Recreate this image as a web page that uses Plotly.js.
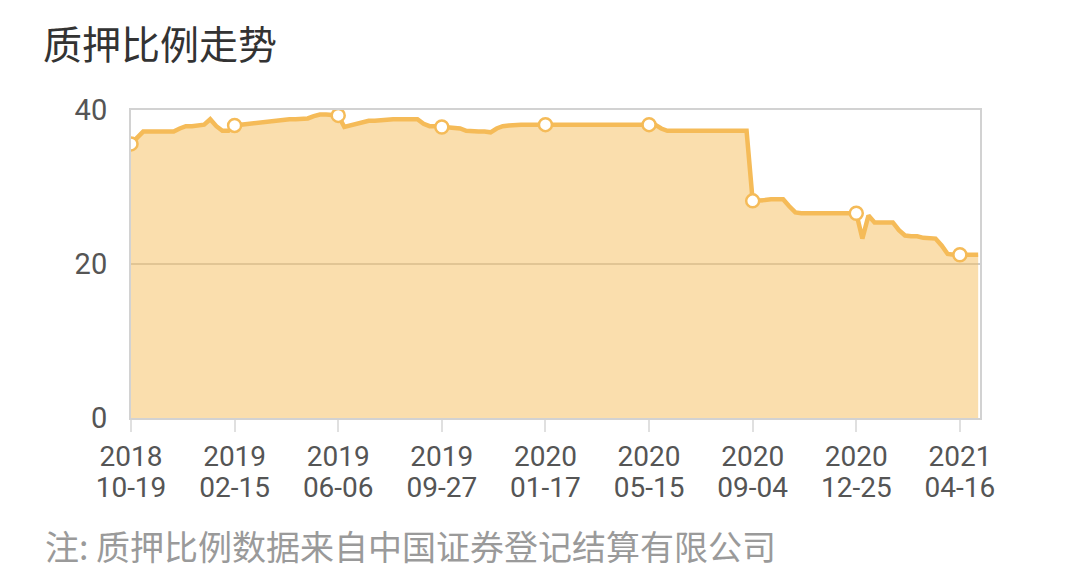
<!DOCTYPE html>
<html>
<head>
<meta charset="utf-8">
<script src="https://cdn.plot.ly/plotly-3.0.1.min.js"></script>
<style>html,body{margin:0;padding:0;background:#fff;}#chart{width:1080px;height:577px;}</style>
</head>
<body>
<div id="chart"></div>
<script>
// Weekly pledge ratio (%) — one value per week, index 0 = 2018-10-19
const pledgeRatio = [
  35.6, 36.4, 37.2, 37.2, 37.2, 37.2, 37.2, 37.2, 37.6, 37.9,
  37.9, 38.0, 38.1, 38.8, 37.9, 37.3, 37.3, 38.0, 38.1, 38.2,
  38.3, 38.4, 38.5, 38.6, 38.7, 38.8, 38.8, 38.8, 38.8, 38.9,
  39.2, 39.4, 39.4, 39.3, 39.3, 37.8, 38.0, 38.3, 38.5, 38.6,
  38.6, 38.7, 38.7, 38.8, 38.8, 38.8, 38.8, 38.8, 38.2, 37.9,
  37.9, 37.8, 37.8, 37.7, 37.6, 37.3, 37.2, 37.2, 37.2, 37.1,
  37.6, 37.9, 38.0, 38.1, 38.1, 38.1, 38.1, 38.1, 38.1, 38.1,
  38.1, 38.1, 38.1, 38.1, 38.1, 38.1, 38.2, 38.2, 38.2, 38.2,
  38.1, 38.1, 38.1, 38.1, 38.1, 38.1, 38.1, 37.6, 37.3, 37.3,
  37.3, 37.3, 37.3, 37.3, 37.3, 37.3, 37.3, 37.3, 37.3, 37.3,
  37.3, 37.3, 28.2, 28.2, 28.3, 28.4, 28.4, 28.4, 27.5, 26.7,
  26.6, 26.6, 26.6, 26.6, 26.6, 26.6, 26.6, 26.6, 26.6, 26.6,
  23.3, 26.3, 25.4, 25.4, 25.4, 25.4, 24.4, 23.7, 23.6, 23.6,
  23.4, 23.3, 23.3, 22.4, 21.3, 21.2, 21.2, 21.2, 21.2, 21.2
];
// Tick positions (week index) and their labels
const tickIndex = [0, 17, 34, 51, 68, 85, 102, 119, 136];
const tickYears = ['2018', '2019', '2019', '2019', '2020', '2020', '2020', '2020', '2021'];
const tickDays = ['10-19', '02-15', '06-06', '09-27', '01-17', '05-15', '09-04', '12-25', '04-16'];
const yTicks = [0, 20, 40];
const titleText = '质押比例走势';
const noteText = '注: 质押比例数据来自中国证券登记结算有限公司';

const xIdx = pledgeRatio.map((_, i) => i);
const lineColor = 'rgb(245,187,88)';

const traces = [
  {
    x: xIdx, y: pledgeRatio, type: 'scatter', mode: 'lines',
    line: {color: lineColor, width: 4.5},
    fill: 'tozeroy', fillcolor: 'rgba(245,189,91,0.5)',
    hoverinfo: 'skip', showlegend: false
  },
  {
    x: tickIndex, y: tickIndex.map(i => pledgeRatio[i]), type: 'scatter', mode: 'markers',
    marker: {size: 13, color: '#ffffff', line: {color: lineColor, width: 2.5}},
    hoverinfo: 'skip', showlegend: false
  },
  {
    x: tickIndex, y: tickIndex.map(() => null), xaxis: 'x2', type: 'scatter', mode: 'markers',
    hoverinfo: 'skip', showlegend: false
  }
];

const font = 'Roboto, "Noto Sans CJK SC", sans-serif';
const xRange = [0, 139.3];
const layout = {
  width: 1080, height: 577,
  margin: {l: 131, r: 100, t: 110, b: 159},
  paper_bgcolor: '#ffffff', plot_bgcolor: '#ffffff',
  font: {family: font, color: '#555'},
  title: {
    text: titleText, xref: 'container', yref: 'container',
    x: 43/1080, xanchor: 'left', y: 1 - 45/577, yanchor: 'middle',
    font: {family: '"Noto Sans CJK SC", sans-serif', size: 39, color: '#333'}
  },
  xaxis: {
    range: xRange, tickmode: 'array', tickvals: tickIndex, ticktext: tickYears,
    showgrid: false, zeroline: false, showline: true, linecolor: '#d2d2d2', linewidth: 2,
    mirror: true, ticks: 'outside', ticklen: 12, tickwidth: 2, tickcolor: '#e0e0e0',
    ticklabelstandoff: 0,
    tickfont: {size: 28, color: '#555', family: font}, fixedrange: true
  },
  xaxis2: {
    range: xRange, overlaying: 'x', anchor: 'y', side: 'bottom',
    tickmode: 'array', tickvals: tickIndex, ticktext: tickDays,
    showgrid: false, zeroline: false, showline: false, ticks: '',
    ticklabelstandoff: 50,
    tickfont: {size: 28, color: '#555', family: font}, fixedrange: true
  },
  yaxis: {
    range: [0, 40], tickmode: 'array', tickvals: yTicks,
    showgrid: true, gridcolor: '#cccccc', gridwidth: 2, zeroline: false,
    showline: true, linecolor: '#d2d2d2', linewidth: 2, mirror: true,
    ticks: '', ticklabelstandoff: 16,
    tickfont: {size: 29, color: '#555', family: font}, fixedrange: true
  },
  annotations: [{
    text: noteText, xref: 'paper', yref: 'paper',
    x: (43 - 131) / 849, y: (418 - 545) / 308, xanchor: 'left', yanchor: 'middle',
    showarrow: false, font: {family: '"Noto Sans CJK SC", sans-serif', size: 34, color: '#9a9a9a'}
  }]
};

Plotly.newPlot('chart', traces, layout, {staticPlot: true, displayModeBar: false});
</script>
</body>
</html>
